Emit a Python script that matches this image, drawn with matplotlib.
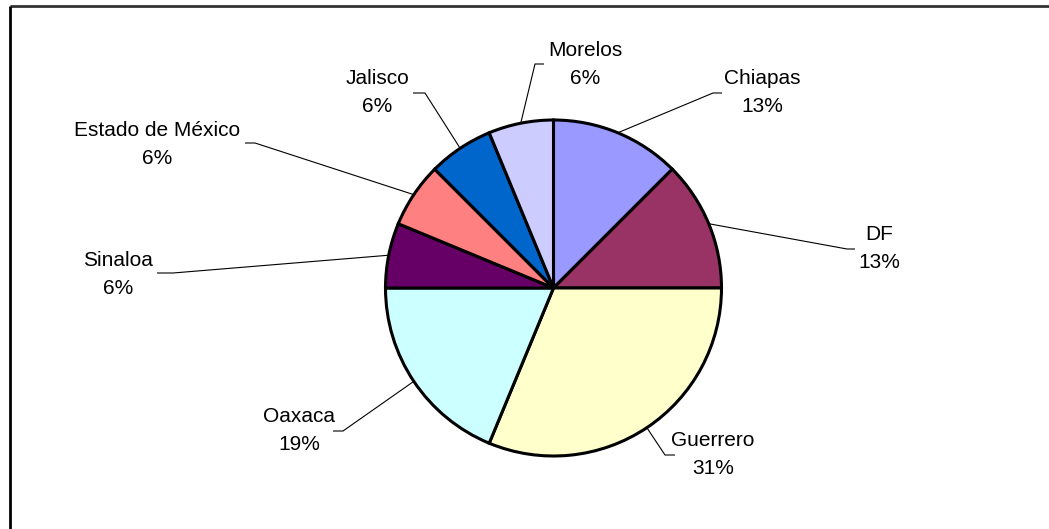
import numpy as np
import matplotlib
matplotlib.use("Agg")
import matplotlib.pyplot as plt

# Data
states = ["Chiapas", "DF", "Guerrero", "Oaxaca", "Sinaloa",
          "Estado de México", "Jalisco", "Morelos"]
counts = [2, 2, 5, 3, 1, 1, 1, 1]
pct_labels = ["13%", "13%", "31%", "19%", "6%", "6%", "6%", "6%"]
colors = ["#9999FF", "#993366", "#FFFFCC", "#CCFFFF", "#660066",
          "#FF8080", "#0066CC", "#CCCCFF"]

W, H = 1049, 529
fig = plt.figure(figsize=(W / 100, H / 100), dpi=100)
ax = fig.add_axes([0, 0, 1, 1])
ax.set_xlim(0, W)
ax.set_ylim(0, H)
ax.set_aspect("equal")
ax.axis("off")

plt.rcParams["font.family"] = ["Liberation Sans", "DejaVu Sans"]

cx, cy, r = 553.5, H - 288, 168
wedges, _ = ax.pie(counts, colors=colors, startangle=90, counterclock=False,
                   center=(cx, cy), radius=r,
                   wedgeprops=dict(edgecolor="black", linewidth=2.2))
ax.set_xlim(0, W)
ax.set_ylim(0, H)

# label layout (image pixel coords): text center, elbow, end of horizontal
text_pos = [(762, 93), (879, 249), (713, 455), (299, 431), (118, 274),
            (157, 145), (377, 93), (585, 64)]
elbows = [(713, 93), (847, 249), (665, 455), (343, 431), (173, 273),
          (255, 143), (425, 93), (535, 64)]
ends = [(722, 93), (855, 249), (675, 455), (333, 431), (157, 273),
        (245, 143), (413, 93), (544, 64)]

for w, name, pct, tp, el, en in zip(wedges, states, pct_labels, text_pos, elbows, ends):
    ang = np.deg2rad((w.theta1 + w.theta2) / 2)
    sx, sy = cx + r * np.cos(ang), cy + r * np.sin(ang)
    ax.plot([sx, el[0], en[0]], [sy, H - el[1], H - en[1]], color="black",
            linewidth=0.8, solid_capstyle="butt", zorder=1)
    ax.text(tp[0], H - tp[1], f"{name}\n{pct}", ha="center", va="center",
            fontsize=15, linespacing=1.6, color="black")

# frame (top and left edges visible)
ax.plot([9.5, W], [H - 6, H - 6], color="#333333", linewidth=2, solid_capstyle="butt")
ax.plot([9.5, 9.5], [0, H - 6], color="black", linewidth=2, solid_capstyle="butt")

fig.savefig("out.png", dpi=100, facecolor="white")
